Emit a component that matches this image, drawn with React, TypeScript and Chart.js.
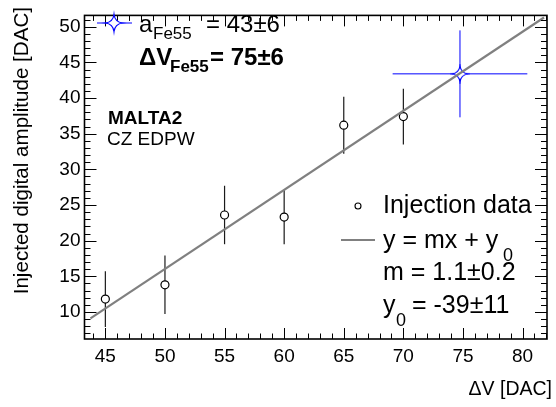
import { useEffect, useRef } from "react";
import { Chart, registerables } from "chart.js";

Chart.register(...registerables);

// ---- data ----
const injX = [45, 50, 55, 60, 65, 70];
const injY = [11.8, 13.8, 23.6, 23.3, 36.2, 37.4];
const injErr = [3.9, 4.1, 4.1, 3.8, 4.0, 3.9];

const feX = [74.75];
const feY = [43.4];
const feXErr = [5.65];
const feYErr = [6.1];

const fitX = [43.75, 81.8];
const fitY = [9.1, 51.3];

const xTicks = [45, 50, 55, 60, 65, 70, 75, 80];
const yTicks = [10, 15, 20, 25, 30, 35, 40, 45, 50];

const X_MIN = 43.25;
const X_MAX = 82.05;
const Y_MIN = 6.2;
const Y_MAX = 51.6;

const FONT = "'Liberation Sans', Arial, Helvetica, sans-serif";
const BLUE = "#0000ff";
const GRAY = "#808080";

function starPath(ctx: CanvasRenderingContext2D, cx: number, cy: number, r: number) {
  const k = r * 0.12;
  ctx.beginPath();
  ctx.moveTo(cx, cy - r);
  ctx.quadraticCurveTo(cx + k, cy - k, cx + r, cy);
  ctx.quadraticCurveTo(cx + k, cy + k, cx, cy + r);
  ctx.quadraticCurveTo(cx - k, cy + k, cx - r, cy);
  ctx.quadraticCurveTo(cx - k, cy - k, cx, cy - r);
  ctx.closePath();
}

function makeStar(r: number): HTMLCanvasElement {
  const c = document.createElement("canvas");
  const s = Math.ceil(r * 2 + 4);
  c.width = s;
  c.height = s;
  const ctx = c.getContext("2d")!;
  starPath(ctx, s / 2, s / 2, r);
  ctx.fillStyle = "#ffffff";
  ctx.fill();
  ctx.strokeStyle = BLUE;
  ctx.lineWidth = 1.2;
  ctx.stroke();
  return c;
}

type Part = { t: string; x: number; y: number; size: number; bold?: boolean };

function drawParts(ctx: CanvasRenderingContext2D, parts: Part[]) {
  ctx.save();
  ctx.fillStyle = "#000";
  ctx.textAlign = "left";
  ctx.textBaseline = "alphabetic";
  for (const p of parts) {
    ctx.font = `${p.bold ? "bold " : ""}${p.size}px ${FONT}`;
    ctx.fillText(p.t, p.x, p.y);
  }
  ctx.restore();
}

const decorPlugin = {
  id: "decor",
  beforeDatasetsDraw(chart: any) {
    const { ctx, scales } = chart;
    const xs = scales.x;
    const ys = scales.y;
    ctx.save();
    // injection error bars
    ctx.strokeStyle = "#1a1a1a";
    ctx.lineWidth = 1.2;
    for (let i = 0; i < injX.length; i++) {
      const px = xs.getPixelForValue(injX[i]);
      const y1 = ys.getPixelForValue(injY[i] - injErr[i]);
      const y2 = ys.getPixelForValue(injY[i] + injErr[i]);
      ctx.beginPath();
      ctx.moveTo(px, y1);
      ctx.lineTo(px, y2);
      ctx.stroke();
    }
    // Fe55 error bars
    ctx.strokeStyle = BLUE;
    ctx.lineWidth = 1;
    for (let i = 0; i < feX.length; i++) {
      const px = xs.getPixelForValue(feX[i]);
      const py = ys.getPixelForValue(feY[i]);
      ctx.beginPath();
      ctx.moveTo(xs.getPixelForValue(feX[i] - feXErr[i]), py);
      ctx.lineTo(xs.getPixelForValue(feX[i] + feXErr[i]), py);
      ctx.moveTo(px, ys.getPixelForValue(feY[i] - feYErr[i]));
      ctx.lineTo(px, ys.getPixelForValue(feY[i] + feYErr[i]));
      ctx.stroke();
    }
    ctx.restore();
  },
  afterDraw(chart: any) {
    const { ctx, chartArea, scales } = chart;
    const { left, right, top, bottom } = chartArea;
    const xs = scales.x;
    const ys = scales.y;
    ctx.save();
    // ticks (inside, all four sides)
    ctx.strokeStyle = "#000";
    ctx.lineWidth = 1;
    ctx.beginPath();
    for (let v = Math.ceil(X_MIN); v <= X_MAX; v++) {
      const px = Math.round(xs.getPixelForValue(v)) + 0.5;
      const len = v % 5 === 0 ? 11 : 5.5;
      ctx.moveTo(px, bottom);
      ctx.lineTo(px, bottom - len);
      ctx.moveTo(px, top);
      ctx.lineTo(px, top + len);
    }
    for (let v = Math.ceil(Y_MIN); v <= Y_MAX; v++) {
      const py = Math.round(ys.getPixelForValue(v)) + 0.5;
      const len = v % 5 === 0 ? 12 : 6;
      ctx.moveTo(left, py);
      ctx.lineTo(left + len, py);
      ctx.moveTo(right, py);
      ctx.lineTo(right - len, py);
    }
    ctx.stroke();
    // frame
    ctx.lineWidth = 1.6;
    ctx.strokeRect(left, top, right - left, bottom - top);

    // axis titles
    ctx.fillStyle = "#000";
    ctx.font = `19.5px ${FONT}`;
    ctx.textAlign = "right";
    ctx.textBaseline = "alphabetic";
    ctx.fillText("\u0394V [DAC]", 552, 395);

    ctx.save();
    ctx.translate(28, 7);
    ctx.rotate(-Math.PI / 2);
    ctx.font = `20.6px ${FONT}`;
    ctx.textAlign = "right";
    ctx.fillText("Injected digital amplitude [DAC]", 0, 0);
    ctx.restore();

    // top-left legend: Fe55
    ctx.strokeStyle = BLUE;
    ctx.lineWidth = 1.2;
    ctx.beginPath();
    ctx.moveTo(97, 23);
    ctx.lineTo(132, 23);
    ctx.stroke();
    starPath(ctx, 114, 23, 8.5);
    ctx.fillStyle = "#fff";
    ctx.fill();
    ctx.stroke();
    ctx.restore();

    drawParts(ctx, [
      { t: "a", x: 139, y: 32, size: 24 },
      { t: "Fe55", x: 153, y: 39, size: 17 },
      { t: "= 43\u00b16", x: 206, y: 32, size: 24 },
      { t: "\u0394V", x: 139, y: 65, size: 24, bold: true },
      { t: "Fe55", x: 170, y: 72, size: 17, bold: true },
      { t: "= 75\u00b16", x: 210, y: 65, size: 24, bold: true },
      { t: "MALTA2", x: 108, y: 124, size: 19, bold: true },
      { t: "CZ EDPW", x: 107, y: 145, size: 19 },
    ]);

    // bottom-right legend
    ctx.save();
    ctx.strokeStyle = "#000";
    ctx.lineWidth = 1.1;
    ctx.fillStyle = "#fff";
    ctx.beginPath();
    ctx.arc(358, 206, 3, 0, Math.PI * 2);
    ctx.fill();
    ctx.stroke();
    ctx.strokeStyle = GRAY;
    ctx.lineWidth = 2.2;
    ctx.beginPath();
    ctx.moveTo(341, 240);
    ctx.lineTo(375, 240);
    ctx.stroke();
    ctx.restore();

    drawParts(ctx, [
      { t: "Injection data", x: 383, y: 213, size: 25 },
      { t: "y = mx + y", x: 383, y: 248, size: 25 },
      { t: "0", x: 503, y: 261, size: 18 },
      { t: "m = 1.1\u00b10.2", x: 383, y: 280, size: 25 },
      { t: "y", x: 383, y: 313, size: 25 },
      { t: "0", x: 396, y: 326, size: 18 },
      { t: "= -39\u00b111", x: 412, y: 313, size: 25 },
    ]);
  },
};

export default function App() {
  const ref = useRef<HTMLCanvasElement | null>(null);

  useEffect(() => {
    if (!ref.current) return;
    const star = makeStar(8);
    const chart = new Chart(ref.current, {
      type: "scatter",
      data: {
        datasets: [
          {
            label: "fit",
            data: fitX.map((x, i) => ({ x, y: fitY[i] })),
            showLine: true,
            borderColor: GRAY,
            borderWidth: 2.2,
            pointRadius: 0,
            fill: false,
          } as any,
          {
            label: "Injection data",
            data: injX.map((x, i) => ({ x, y: injY[i] })),
            pointStyle: "circle",
            pointRadius: 4,
            pointBackgroundColor: "#ffffff",
            pointBorderColor: "#000000",
            pointBorderWidth: 1.2,
          },
          {
            label: "Fe55",
            data: feX.map((x, i) => ({ x, y: feY[i] })),
            pointStyle: star as any,
            pointRadius: 8,
          },
        ],
      },
      options: {
        animation: false,
        responsive: false,
        events: [],
        layout: { padding: { top: 5, right: 4, left: 0, bottom: 0 } },
        plugins: {
          legend: { display: false },
          tooltip: { enabled: false },
          title: { display: false },
        },
        scales: {
          x: {
            type: "linear",
            min: X_MIN,
            max: X_MAX,
            grid: { display: false, drawTicks: false },
            border: { display: false },
            ticks: {
              font: { family: FONT, size: 19 },
              color: "#000",
              padding: 6,
              maxRotation: 0,
              autoSkip: false,
            },
            afterBuildTicks: (s: any) => {
              s.ticks = xTicks.map((v) => ({ value: v }));
            },
            afterFit: (s: any) => {
              s.height = 68;
            },
          },
          y: {
            type: "linear",
            min: Y_MIN,
            max: Y_MAX,
            grid: { display: false, drawTicks: false },
            border: { display: false },
            ticks: {
              font: { family: FONT, size: 19 },
              color: "#000",
              padding: 4,
              autoSkip: false,
            },
            afterBuildTicks: (s: any) => {
              s.ticks = yTicks.map((v) => ({ value: v }));
            },
            afterFit: (s: any) => {
              s.width = 84.5;
            },
          },
        },
      },
      plugins: [decorPlugin],
    });
    return () => chart.destroy();
  }, []);

  return (
    <div style={{ position: "absolute", left: 0, top: 0, width: 556, height: 407, background: "#fff" }}>
      <canvas ref={ref} width={556} height={407} style={{ display: "block" }} />
    </div>
  );
}
